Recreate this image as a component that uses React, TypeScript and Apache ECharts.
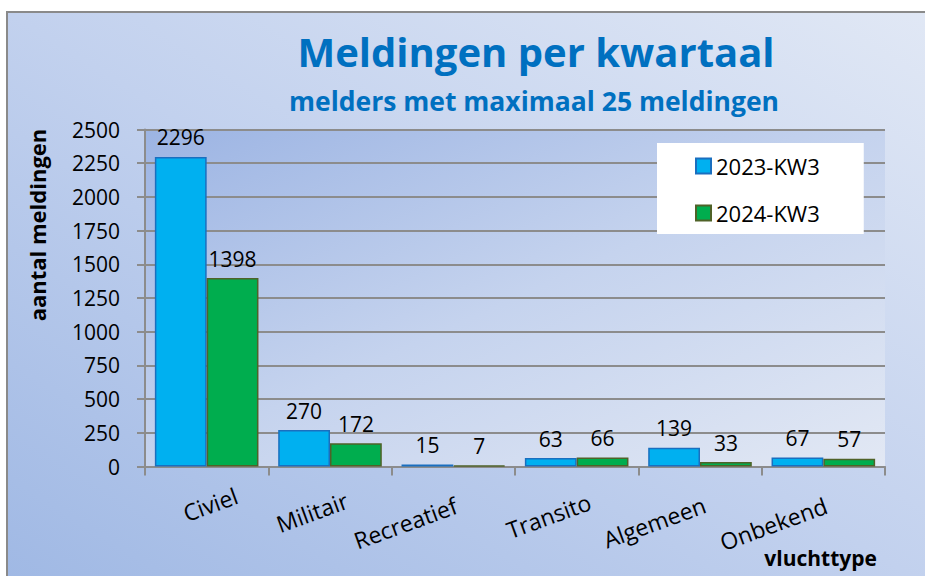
import React, { useEffect, useRef } from "react";
import * as echarts from "echarts";

const categories = ["Civiel", "Militair", "Recreatief", "Transito", "Algemeen", "Onbekend"];
const series2023 = [2296, 270, 15, 63, 139, 67];
const series2024 = [1398, 172, 7, 66, 33, 57];
const seriesNames = ["2023-KW3", "2024-KW3"];
const yMin = 0;
const yMax = 2500;
const yInterval = 250;

const titleText = "Meldingen per kwartaal";
const subtitleText = "melders met maximaal 25 meldingen";
const yAxisName = "aantal meldingen";
const xAxisName = "vluchttype";

const FONT = "'Open Sans', 'Noto Sans', sans-serif";
// Excel-like horizontal shift of rotated category labels (style tweak)
const LABEL_NUDGE = [32, 18, 3, 14, 5, 3];

export default function App() {
  const ref = useRef<HTMLDivElement>(null);
  useEffect(() => {
    const chart = echarts.init(ref.current!, null, { renderer: "svg" });
    const gray = "#8c8c8c";
    chart.setOption({
      animation: false,
      backgroundColor: "#ffffff",
      textStyle: { fontFamily: FONT },
      title: [
        {
          text: titleText,
          left: 531,
          top: 26,
          textAlign: "center",
          textStyle: { fontFamily: FONT, fontSize: 40, fontWeight: "bold", color: "#0070C0" },
        },
        {
          text: subtitleText,
          left: 529,
          top: 82,
          textAlign: "center",
          textStyle: { fontFamily: FONT, fontSize: 26.5, fontWeight: "bold", color: "#0070C0" },
        },
      ],
      graphic: [
        {
          type: "rect",
          z: -10,
          silent: true,
          shape: { x: 7, y: 12, width: 930, height: 580 },
          style: {
            fill: new echarts.graphic.LinearGradient(1, 0, 0, 1, [
              { offset: 0, color: "#e1e8f5" },
              { offset: 0.5, color: "#c2d1ee" },
              { offset: 1, color: "#9fb8e4" },
            ]),
            stroke: "#8a8a8a",
            lineWidth: 2,
          },
        },
        {
          type: "text",
          x: 37,
          y: 225,
          rotation: Math.PI / 2,
          style: {
            text: yAxisName,
            font: `bold 22px ${FONT}`,
            fill: "#000",
            textAlign: "center",
            textVerticalAlign: "middle",
          },
        },
        {
          type: "text",
          x: 877,
          y: 558,
          style: {
            text: xAxisName,
            font: `bold 21px ${FONT}`,
            fill: "#000",
            textAlign: "right",
            textVerticalAlign: "middle",
          },
        },
      ],
      legend: {
        orient: "vertical",
        left: 657,
        top: 143,
        backgroundColor: "#ffffff",
        padding: [12, 44, 10, 38],
        itemGap: 25,
        itemWidth: 15,
        itemHeight: 15,
        itemTextGap: 7,
        icon: "rect",
        data: seriesNames,
        textStyle: { fontFamily: FONT, fontSize: 22, color: "#000" },
      },
      grid: {
        left: 145,
        right: 40,
        top: 129.5,
        bottom: 109.5,
        show: true,
        borderWidth: 0,
        outerBoundsMode: "none",
        backgroundColor: new echarts.graphic.LinearGradient(0, 0, 1, 1, [
          { offset: 0, color: "#9cb4e3" },
          { offset: 0.5, color: "#c5d3ee" },
          { offset: 1, color: "#e2e8f4" },
        ]),
      },
      xAxis: {
        type: "category",
        data: categories.map((c, i) => ({
          value: c,
          textStyle: { padding: [0, -LABEL_NUDGE[i], 0, 0] },
        })),
        axisLine: { show: true, lineStyle: { color: gray, width: 2 } },
        axisTick: { show: true, length: 9, alignWithLabel: false, interval: 0, lineStyle: { color: gray, width: 2 } },
        axisLabel: {
          interval: 0,
          rotate: 20,
          margin: 39,
          fontFamily: FONT,
          fontSize: 23,
          color: "#000",
        },
        splitLine: { show: false },
      },
      yAxis: {
        type: "value",
        min: yMin,
        max: yMax,
        interval: yInterval,
        axisLine: { show: true, lineStyle: { color: gray, width: 2 } },
        axisTick: { show: true, length: 8, lineStyle: { color: gray, width: 2 } },
        axisLabel: {
          margin: 25,
          fontFamily: FONT,
          fontSize: 21,
          color: "#000",
          formatter: (v: number) => String(v),
        },
        splitLine: { show: true, lineStyle: { color: gray, width: 2 } },
      },
      series: [
        {
          name: seriesNames[0],
          type: "bar",
          data: series2023,
          barGap: "0%",
          barCategoryGap: "16%",
          itemStyle: { color: "#00B0F0", borderColor: "#1a6fbf", borderWidth: 1.5 },
          label: { show: true, position: "top", distance: 9, fontFamily: FONT, fontSize: 21, color: "#000" },
        },
        {
          name: seriesNames[1],
          type: "bar",
          data: series2024,
          barGap: "0%",
          barCategoryGap: "16%",
          itemStyle: { color: "#00AD4E", borderColor: "#4f6228", borderWidth: 1.5 },
          label: { show: true, position: "top", distance: 9, fontFamily: FONT, fontSize: 21, color: "#000" },
        },
      ],
    });
    return () => chart.dispose();
  }, []);
  return <div ref={ref} style={{ position: "fixed", left: 0, top: 0, width: 925, height: 576 }} />;
}
